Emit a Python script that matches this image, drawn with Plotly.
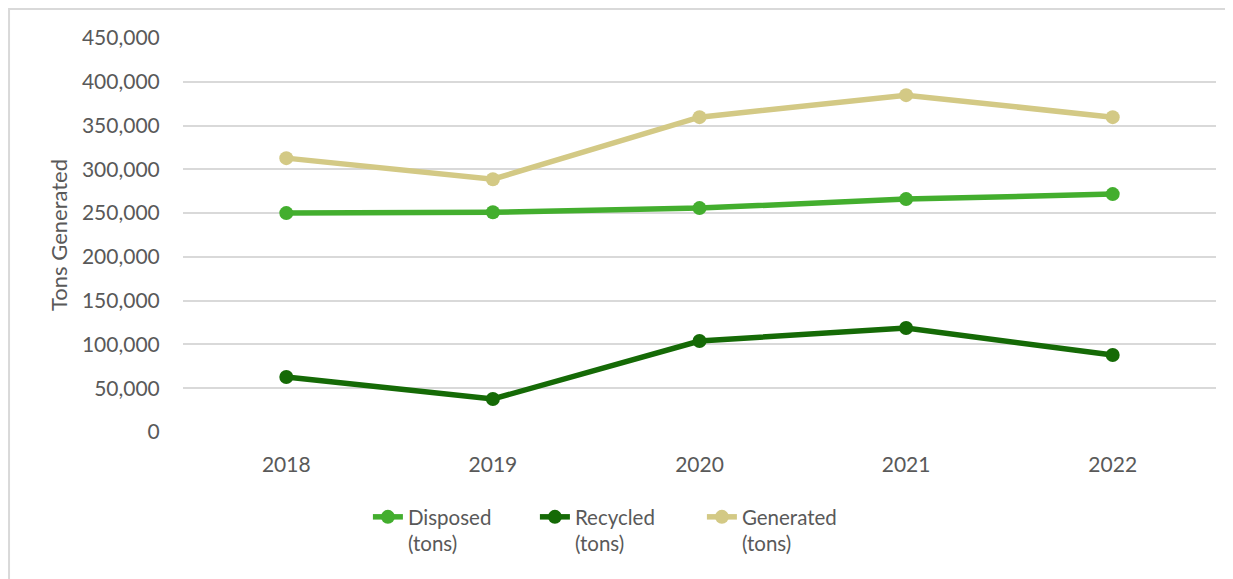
import plotly.graph_objects as go

years = ["2018", "2019", "2020", "2021", "2022"]
disposed = [250000, 251000, 255700, 266000, 271700]
recycled = [62800, 37700, 103900, 118700, 87900]
generated = [312800, 288700, 359600, 384700, 359600]

y_ticks = [0, 50000, 100000, 150000, 200000, 250000, 300000, 350000, 400000, 450000]
y_labels = ["0", "50,000", "100,000", "150,000", "200,000", "250,000",
            "300,000", "350,000", "400,000", "450,000"]

series = [
    ("Disposed<br>(tons)", disposed, "#43ae2e"),
    ("Recycled<br>(tons)", recycled, "#156a06"),
    ("Generated<br>(tons)", generated, "#d3c985"),
]

fig = go.Figure()
for name, vals, color in series:
    fig.add_trace(go.Scatter(
        x=years, y=vals, name=name, mode="lines+markers",
        line=dict(color=color, width=5.5),
        marker=dict(color=color, size=14),
    ))

# outer chart frame (left and top edges visible)
fig.add_shape(type="rect", xref="paper", yref="paper",
              x0=-0.1684, x1=1.2, y0=-0.6, y1=1.0736,
              line=dict(color="#d9d9d9", width=2), layer="below")

# page body has an 8px margin, so the figure is a bit smaller than the window
fig.update_layout(
    width=1225, height=571,
    margin=dict(l=175, r=17, t=30, b=147),
    plot_bgcolor="white", paper_bgcolor="white",
    font=dict(family="Lato", size=21, color="#595959"),
    showlegend=True,
    legend=dict(orientation="h", x=0.179, xanchor="left", y=-0.165, yanchor="top",
                font=dict(size=20.5, color="#595959"), valign="top",
                entrywidth=122, entrywidthmode="pixels",
                traceorder="normal"),
)
fig.update_xaxes(
    type="category", range=[-0.5, 4.5], showgrid=False, showline=False,
    ticks="outside", ticklen=14, tickcolor="rgba(0,0,0,0)",
    tickfont=dict(size=21, color="#595959"),
)
fig.update_yaxes(
    range=[0, 450000], tickvals=y_ticks, ticktext=y_labels,
    showgrid=True, gridcolor="#d9d9d9", gridwidth=1.5, zeroline=False,
    ticks="outside", ticklen=18, tickcolor="rgba(0,0,0,0)",
    tickfont=dict(size=21, color="#595959"),
    title=dict(text="Tons Generated", font=dict(size=22, color="#595959"), standoff=8),
)

fig.write_html("out.html")
